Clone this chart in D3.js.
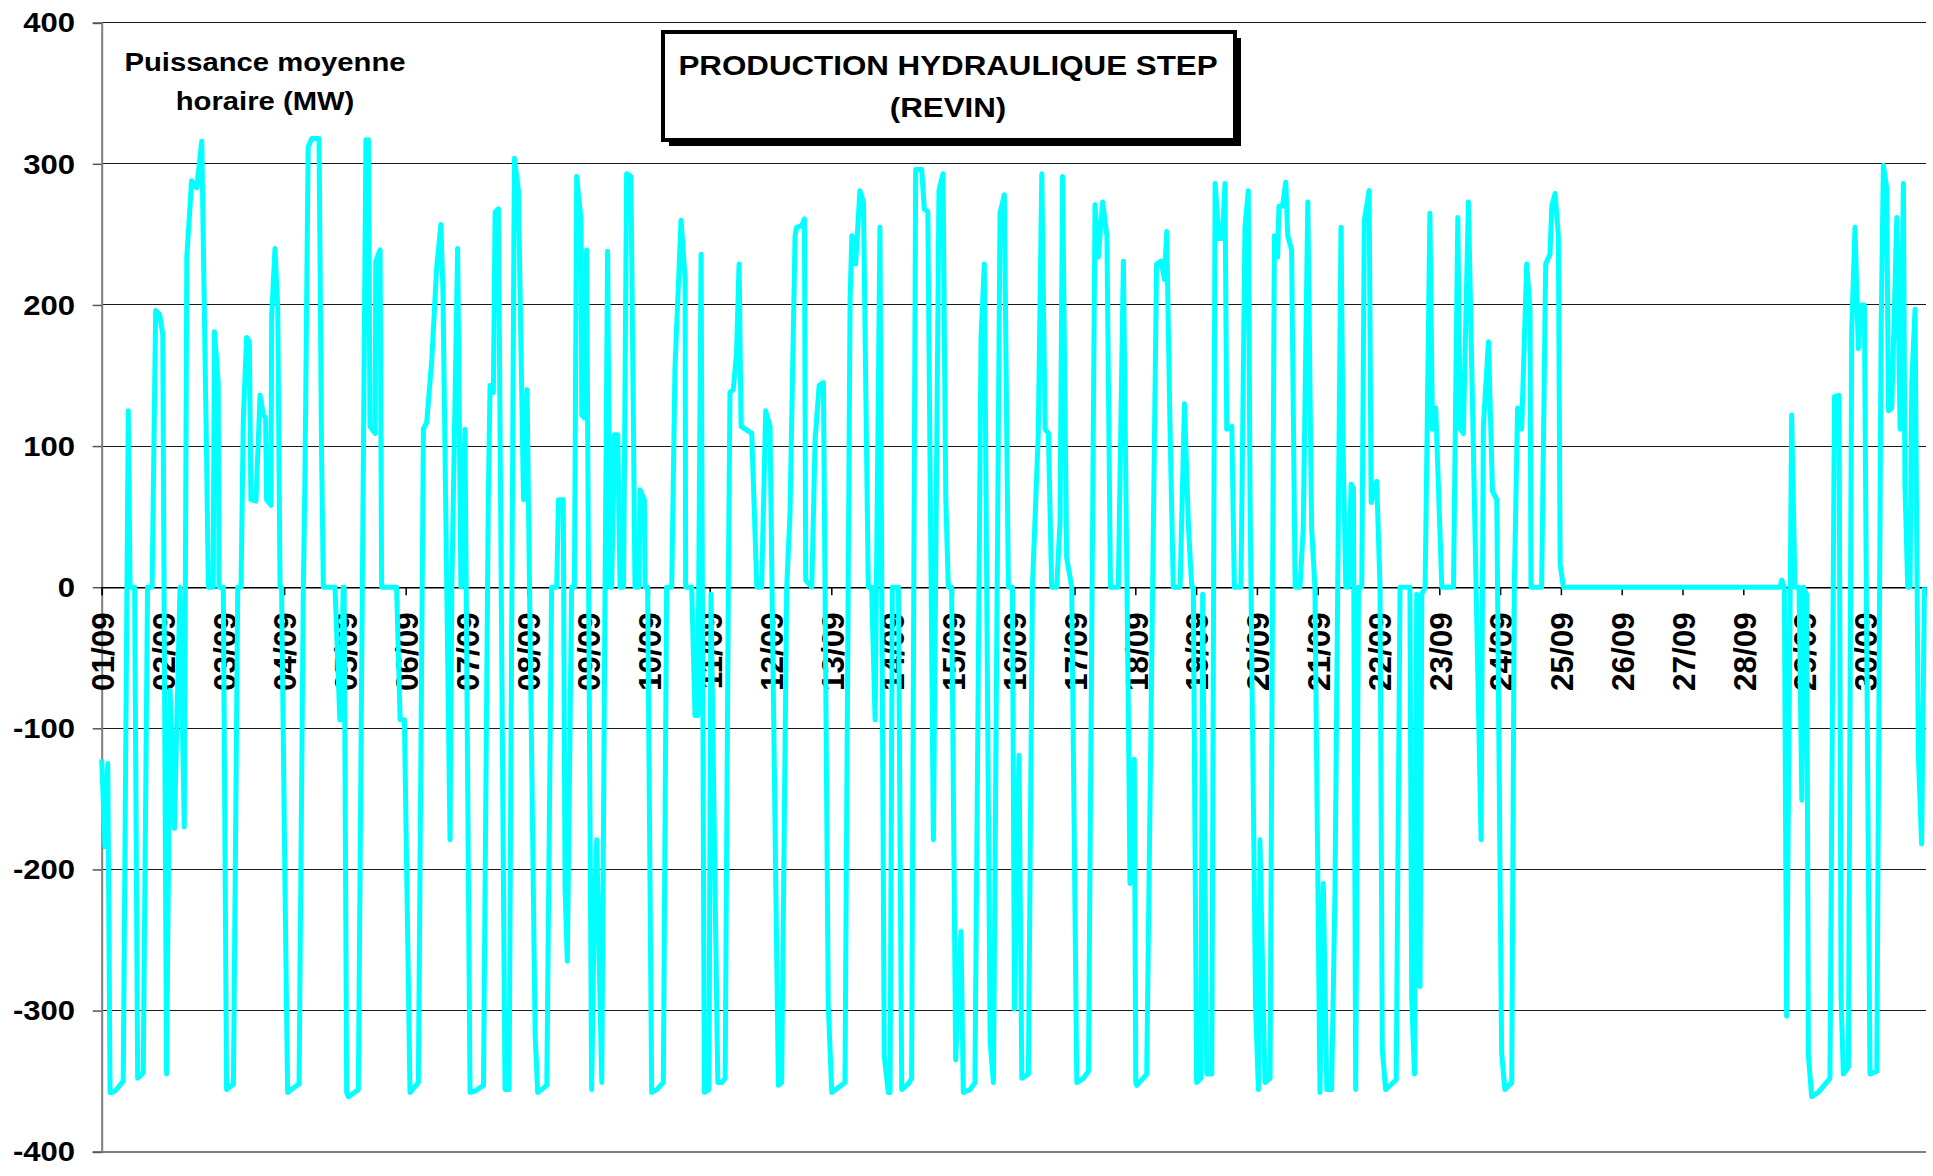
<!DOCTYPE html>
<html><head><meta charset="utf-8">
<script src="https://cdn.jsdelivr.net/npm/d3@7"></script>
<style>html,body{margin:0;padding:0;background:#fff;} svg{display:block;}</style>
</head><body>
<svg id="chart" width="1933" height="1176"></svg>
<script>
const dayLabels = ["01/09","02/09","03/09","04/09","05/09","06/09","07/09","08/09","09/09","10/09","11/09","12/09","13/09","14/09","15/09","16/09","17/09","18/09","19/09","20/09","21/09","22/09","23/09","24/09","25/09","26/09","27/09","28/09","29/09","30/09"];
const yTicks = [-400,-300,-200,-100,0,100,200,300,400];
const titleLines = ["PRODUCTION HYDRAULIQUE STEP","(REVIN)"];
const unitLines = ["Puissance moyenne","horaire (MW)"];
// hour index since 01/09 00:00 (line vertices)
const hours = [0,1.3,2.4,3.3,4,5.3,8.5,10.5,11.2,13,14.2,16.4,18.1,19.9,21.3,22.9,24.1,25.6,27.0,28.7,30.9,32.6,33.6,35.5,37.5,39.5,41.4,42.1,44.0,44.5,46.0,46.3,48.0,49.3,52.0,53.7,55.0,55.9,57.2,58.3,58.9,60.9,62.5,63.8,64.7,65.1,66.8,67.1,68.4,69.5,70.4,71.0,72.4,73.4,76.3,77.9,79.6,80.2,81.5,82.9,85.8,86.8,87.5,92.1,94.0,94.6,95.3,95.7,96.7,97.4,101.3,
104.3,105.3,105.9,107.9,108.2,109.9,110.5,116.4,117.8,119.5,121.7,125.0,127.0,128.3,130.3,132.2,133.9,134.7,137.5,138.2,140.5,141.8,143.4,145.4,147.4,150.7,152.6,153.3,154.6,155.3,156.6,159.2,160.8,162.9,164.5,166.5,167.9,171.1,172.1,175.7,177.6,179.6,180.3,182.2,182.9,183.8,185.5,186.6,187.5,189.2,189.5,190.5,191.4,193.4,194.5,195.4,197.4,198.7,199.7,200.7,201.3,202.4,203.7,
204.6,206.0,207.2,208.9,209.9,210.5,212.1,212.5,214.2,214.5,215.5,217.1,219.1,221.7,223.0,225.0,226.3,228.7,230.3,230.5,232.9,234.2,235.3,236.6,237.9,239.7,240.5,243.2,244.7,246.1,247.4,248.0,249.3,250.6,251.6,252.4,256.6,258.6,260.5,262.1,263.8,267.1,268.4,270.4,271.7,273.7,274.3,276.3,277.4,277.9,280.3,281.6,283.2,284.9,286.8,288.2,293.4,295.4,296.1,297.1,297.6,299.3,300.7,302.6,303.9,305.3,307.2,
308.9,310.5,311.2,312.1,314.5,315.8,318.4,319.7,321.3,323.7,324.7,326.1,328.3,330.5,332.1,333.2,334.2,335.5,337.1,339.2,340.1,342.8,344.7,347.1,348.4,350.7,352.0,354.6,356.3,357.9,359.5,360.3,362.1,363.2,365.8,367.4,369.7,371.1,372.4,373.7,375.0,377.0,378.3,379.3,380.9,382.9,384.9,387.5,389.5,392.1,393.4,395.1,396.8,398.2,401.3,403.3,405.3,405.9,407.6,408.2,
408.6,412.5,416.4,418.2,419.5,420.4,421.7,423.0,425.7,427.4,429.0,430.3,430.9,432.2,433.9,434.6,436.2,438.2,439.5,441.1,442.4,443.4,444.1,446.1,447.1,449.7,451.3,452.6,453.3,455.5,456.6,457.2,459.2,461.2,462.9,464.2,464.7,466.1,467.4,468.2,469.7,471.1,473.0,474.3,476.1,477.6,478.9,480.9,482.2,483.6,485.5,486.8,489.2,490.1,491.1,492.1,493.2,494.1,495.0,496.1,497.4,498.4,500.3,501.1,503.3,504.6,505.5,506.8,511.0,
512.5,516.4,517.1,518.2,519.1,520.4,521.1,522.4,524.3,525.3,526.6,529.0,533.6,535.3,536.3,537.5,539.5,541.1,544.5,545.4,547.4,549.0,550.7,552.6,553.9,556.6,557.6,558.9,560.5,562.5,563.8,564.2,568.4,570.0,571.7,572.4,573.7,575.0,575.7,577.0,
662.5,663.2,664.2,665.1,667.1,668.4,670.0,671.1,671.7,673.0,673.7,675.0,677.6,682.2,684.0,685.8,686.6,687.5,689.5,690.8,692.1,693.4,694.5,695.8,696.7,698.0,700.7,702.4,703.3,704.6,705.3,706.6,708.6,709.9,711.2,711.8,712.9,713.8,714.5,715.8,717.1,718.4,719.5];
// average hourly power (MW)
const power = [-122,-184,-125,-358,-358,-357,-350,125,0,0,-348,-344,0,0,196,193,179,-345,-73,-171,0,-170,234,288,283,316,93,0,0,181,145,0,0,-356,-352,0,0,119,177,174,62,61,136,122,120,62,58,192,240,197,0,0,-218,-358,-354,-352,0,73,312,318,318,94,0,0,-94,-94,0,0,-358,-361,-356,
317,317,114,109,231,239,0,0,-94,-94,-358,-351,112,117,161,226,257,210,-179,0,240,0,112,-358,-357,-353,62,143,138,266,268,-356,-356,304,281,62,140,-317,-358,-353,0,0,62,62,-213,-265,0,0,291,260,122,120,239,-356,-223,-179,-351,0,238,0,0,108,108,
0,0,293,291,114,0,0,69,62,0,0,-358,-356,-351,0,0,156,260,218,0,0,-91,-91,236,-358,-356,-5,-351,-351,-348,10,138,140,166,229,114,109,0,0,125,114,-353,-351,0,52,249,255,256,261,5,0,104,143,145,-296,-358,-351,203,249,247,229,281,273,0,0,-94,255,
-332,-358,-358,0,0,-356,-352,-348,296,296,268,266,-179,281,293,62,0,0,-335,-244,-358,-356,-351,177,229,-322,-351,265,278,0,0,-299,-119,-348,-345,0,109,293,112,109,0,0,47,291,21,0,-351,-348,-343,271,234,273,249,0,0,231,-94,-210,-122,-351,
-353,-345,229,231,218,252,114,0,0,130,42,0,0,-351,-348,-5,-345,-345,286,247,247,286,112,114,0,0,255,281,62,-299,-356,-179,-351,-348,249,234,270,270,287,249,239,0,0,42,273,42,0,-358,-210,-356,-356,-218,255,93,0,0,73,70,-356,0,0,260,281,60,75,0,-327,-356,-349,
0,0,-291,-345,-5,-283,-5,0,265,112,127,0,0,262,112,109,273,130,-179,114,174,68,62,-330,-356,-351,0,127,112,229,197,0,0,229,236,270,279,249,16,0,
0,5,0,-304,122,0,0,-151,0,-5,-332,-361,-358,-348,135,136,-291,-345,-340,182,255,169,200,200,-36,-345,-343,182,299,283,125,127,262,112,286,73,0,0,145,197,-119,-182,0];
const totalHours = 720;

const svg = d3.select("#chart");
const font = "'Liberation Sans', Arial, sans-serif";
const x = d3.scaleLinear().domain([0, totalHours]).range([101.7, 1925.7]);
const y = d3.scaleLinear().domain([-400, 400]).range([1151.7, 22.7]);

// gridlines
svg.append("g").selectAll("line").data(yTicks).join("line")
  .attr("x1", x(0)).attr("x2", x(totalHours))
  .attr("y1", d => y(d)).attr("y2", d => y(d))
  .attr("stroke", d => d === -400 ? "#7f7f7f" : "#1a1a1a")
  .attr("stroke-width", d => d === -400 ? 2 : 1)
  .attr("shape-rendering", "crispEdges");

// y axis
const yAxis = d3.axisLeft(y).tickValues(yTicks).tickSize(9).tickPadding(0).tickFormat(d3.format("d"));
const gy = svg.append("g").attr("transform", `translate(${x(0)},0)`).call(yAxis);
gy.select(".domain").attr("stroke", "#7f7f7f").attr("stroke-width", 2);
gy.selectAll(".tick line").attr("stroke", "#555").attr("stroke-width", 1.5);
gy.selectAll(".tick text").remove();
svg.append("g").selectAll("g").data(yTicks).join("g")
  .attr("transform", d => `translate(75,${y(d)}) scale(1.15,1)`)
  .append("text").text(d => d)
  .attr("text-anchor", "end").attr("dy", "0.36em")
  .attr("font-family", font).attr("font-weight", "bold").attr("font-size", 27).attr("fill", "#000");

// x axis at zero with day ticks
const dayIdx = d3.range(dayLabels.length);
const xAxis = d3.axisBottom(x).tickValues(dayIdx.map(d => d * 24)).tickSize(8).tickFormat("");
const gx = svg.append("g").attr("transform", `translate(0,${y(0)})`).call(xAxis);
gx.select(".domain").attr("stroke", "#000").attr("stroke-width", 1.5);
gx.selectAll(".tick line").attr("stroke", "#000").attr("stroke-width", 1.5);

svg.append("g").selectAll("text").data(dayIdx).join("text")
  .attr("transform", d => `translate(${x(d * 24) + 1},${y(0) + 25}) rotate(-90)`)
  .attr("text-anchor", "end").attr("dy", "0.36em")
  .attr("font-family", font).attr("font-weight", "bold").attr("font-size", 31.5).attr("fill", "#000")
  .text(d => dayLabels[d]);

// series line
const pts = hours.map((h, i) => [h, power[i]]);
svg.append("path").datum(pts)
  .attr("fill", "none").attr("stroke", "#00FFFF").attr("stroke-width", 5)
  .attr("stroke-linejoin", "round")
  .attr("d", d3.line().x(d => x(d[0])).y(d => y(d[1])));

// unit label
const ug = svg.append("g").attr("transform", "translate(265,0)");
unitLines.forEach((t, i) => {
  ug.append("g").attr("transform", `translate(0,${71 + i * 39}) scale(1.17,1)`)
    .append("text").text(t).attr("text-anchor", "middle")
    .attr("font-family", font).attr("font-weight", "bold").attr("font-size", 25).attr("fill", "#000");
});

// title box
const bx = 663, by = 32, bw = 572, bh = 108;
svg.append("rect").attr("x", bx + 6).attr("y", by + 6).attr("width", bw).attr("height", bh).attr("fill", "#000");
svg.append("rect").attr("x", bx).attr("y", by).attr("width", bw).attr("height", bh)
  .attr("fill", "#fff").attr("stroke", "#000").attr("stroke-width", 4);
titleLines.forEach((t, i) => {
  svg.append("g").attr("transform", `translate(${bx + bw / 2 - 1},${75 + i * 42}) scale(1.16,1)`)
    .append("text").text(t).attr("text-anchor", "middle")
    .attr("font-family", font).attr("font-weight", "bold").attr("font-size", 27).attr("fill", "#000");
});
</script>
</body></html>
